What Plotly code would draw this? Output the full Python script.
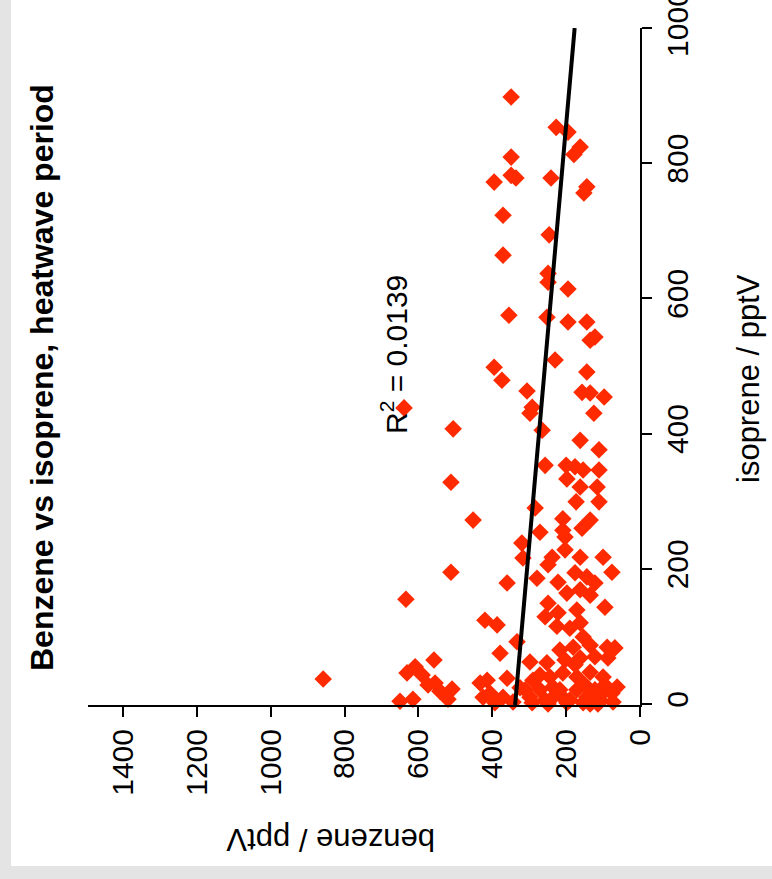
import plotly.graph_objects as go

# Benzene (pptV) and isoprene (pptV) mixing ratios, heatwave period
benzene = [
    639, 506, 512, 452, 512, 634, 858, 558,
    650, 615, 631, 609, 590, 574, 555, 542, 509, 520, 433, 425,
    349, 227, 195, 162, 179, 349, 349, 336, 395, 241, 144, 152, 371, 246,
    371, 249, 249, 195, 355, 252, 195, 144,
    122, 135, 230, 395, 374, 144, 306, 157, 135, 97, 292, 298, 125, 265,
    162, 111, 257, 200, 176, 154, 111, 198, 162, 116, 173, 111, 284, 209,
    135, 157, 209, 271, 203, 320,
    317, 238, 249, 203, 162, 100, 76, 360, 279, 222, 176, 144, 122, 198,
    162, 135, 95, 249, 222, 171, 257, 420, 387, 225, 190, 162, 154, 333,
    379, 217, 181, 135, 89, 68, 298, 252, 203, 162, 122, 87, 414, 360,
    290, 244, 209, 171, 135, 100, 62, 406, 371, 325, 298, 271, 236, 209,
    171, 144, 108, 76, 292, 249, 198, 154, 114, 73, 344, 393,
    217, 176, 149, 122, 95, 271, 230, 190, 135, 257, 311, 108,
]
isoprene = [
    438, 407, 328, 272, 195, 155, 37, 65,
    4, 7, 46, 55, 43, 28, 31, 19, 22, 7, 31, 10,
    898, 853, 846, 824, 813, 809, 782, 778, 772, 778, 765, 756, 723, 694,
    664, 637, 624, 614, 575, 572, 565, 565,
    543, 538, 509, 498, 479, 491, 463, 461, 460, 454, 439, 430, 430, 405,
    390, 376, 353, 353, 351, 346, 346, 333, 321, 321, 299, 299, 290, 274,
    272, 260, 257, 254, 247, 238,
    216, 217, 206, 228, 217, 217, 195, 179, 186, 180, 194, 188, 179, 164,
    169, 161, 143, 149, 135, 139, 129, 124, 117, 115, 112, 120, 99, 92,
    75, 80, 84, 87, 84, 83, 62, 61, 65, 68, 70, 68, 35, 38,
    35, 40, 46, 40, 47, 40, 25, 16, 10, 24, 10, 21, 25, 10,
    21, 10, 13, 16, 2, 0, 2, 2, 0, 3, 3, 2,
    21, 58, 28, 21, 28, 43, 13, 6, 0, 6, 21, 6,
]

# Least-squares fit: benzene = intercept + slope * isoprene
fit_intercept = 338.0
fit_slope = -0.161
fit_r2 = 0.0139
fit_isoprene = [-1.5, 1000]

benzene_ticks = [0, 200, 400, 600, 800, 1000, 1200, 1400]
isoprene_ticks = [0, 200, 400, 600, 800, 1000]

FONT = "Liberation Sans, Arial, Helvetica, sans-serif"
W, H = 772, 879
L, R, T, B = 88, 132, 28, 174
plot_w = W - L - R
plot_h = H - T - B


def px_to_paper(px, py):
    return (px - L) / plot_w, (H - B - py) / plot_h


fig = go.Figure()

fig.add_trace(go.Scatter(
    x=benzene, y=isoprene, mode="markers",
    marker=dict(symbol="diamond", size=13.5, color="#ff2a00", line=dict(width=0)),
    cliponaxis=False, hoverinfo="x+y", showlegend=False,
))

fig.add_trace(go.Scatter(
    x=[fit_intercept + fit_slope * v for v in fit_isoprene], y=fit_isoprene,
    mode="lines", line=dict(color="black", width=4),
    hoverinfo="skip", showlegend=False,
))

axis_common = dict(
    tickangle=-90, ticks="outside", ticklen=10, tickwidth=2, tickcolor="black",
    showline=True, linecolor="black", linewidth=2, showgrid=False, zeroline=False,
    tickfont=dict(family=FONT, size=30, color="black"), ticklabeloverflow="allow",
)
fig.update_xaxes(
    range=[1495, 0], tickvals=benzene_ticks, ticktext=[str(v) for v in benzene_ticks],
    **axis_common,
)
fig.update_yaxes(
    range=[-1.5, 1000], side="right", tickvals=isoprene_ticks,
    ticktext=[str(v) for v in isoprene_ticks], **axis_common,
)

annotations = []
tx, ty = px_to_paper(42, 378)
annotations.append(dict(
    text="<b>Benzene vs isoprene, heatwave period</b>", x=tx, y=ty,
    xref="paper", yref="paper", xanchor="center", yanchor="middle",
    textangle=-90, showarrow=False, font=dict(family=FONT, size=32, color="black"),
))
bx, by = px_to_paper(331, 840)
annotations.append(dict(
    text="benzene / pptV", x=bx, y=by, xref="paper", yref="paper",
    xanchor="center", yanchor="middle", textangle=180, showarrow=False,
    font=dict(family=FONT, size=31, color="black"),
))
ix, iy = px_to_paper(748, 379)
annotations.append(dict(
    text="isoprene / pptV", x=ix, y=iy, xref="paper", yref="paper",
    xanchor="center", yanchor="middle", textangle=-90, showarrow=False,
    font=dict(family=FONT, size=31, color="black"),
))
rx, ry = px_to_paper(394, 355)
annotations.append(dict(
    text=f"R<sup>2</sup> = {fit_r2}", x=rx, y=ry, xref="paper", yref="paper",
    xanchor="center", yanchor="middle", textangle=-90, showarrow=False,
    font=dict(family=FONT, size=30, color="black"),
))

# white page panel over the grey frame
x0, y0 = px_to_paper(11, 866)
x1, y1 = px_to_paper(W, 0)
fig.add_shape(type="rect", xref="paper", yref="paper", x0=x0, y0=y0, x1=x1, y1=y1,
              fillcolor="white", line=dict(width=0), layer="below")

fig.update_layout(
    width=W, height=H, margin=dict(l=L, r=R, t=T, b=B, autoexpand=False),
    paper_bgcolor="#e4e4e4", plot_bgcolor="rgba(0,0,0,0)",
    annotations=annotations, showlegend=False,
)

fig.write_html("out.html")
